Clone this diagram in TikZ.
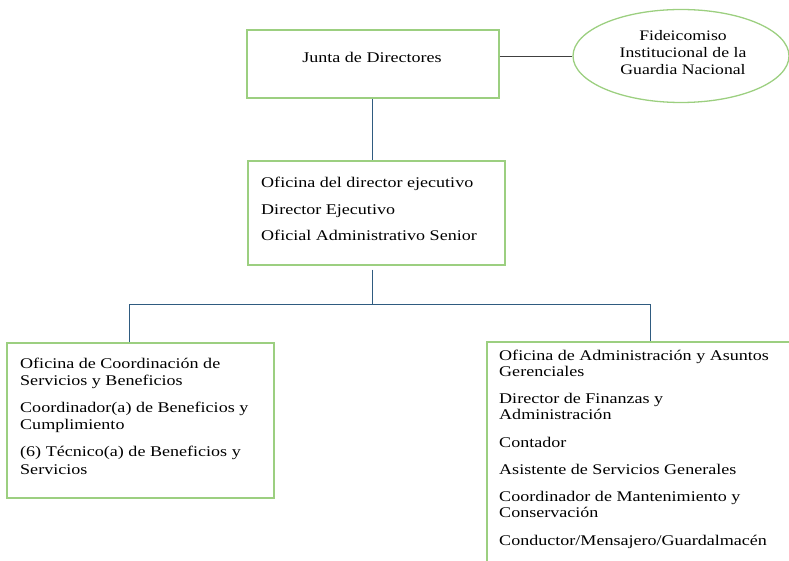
\documentclass[tikz,border=0pt]{standalone}
\usepackage{fontspec}
\setmainfont{Liberation Serif}[FakeStretch=1.22]
\usetikzlibrary{shapes.geometric}
\definecolor{boxgreen}{HTML}{9CCF80}
\definecolor{linkblue}{HTML}{2F5B80}
\begin{document}
\begin{tikzpicture}[x=1pt,y=-1pt,
  box/.style={draw=boxgreen, line width=1.6pt, anchor=north west, inner sep=0pt},
  txt/.style={anchor=north west, align=left, inner sep=0pt, font=\fontsize{14.8}{17.2}\selectfont},
  link/.style={draw=linkblue, line width=1pt}]
\useasboundingbox (0,0) rectangle (789,561);
\begin{scope}
\clip (0,0) rectangle (789,561);
% boxes
\node[box, minimum width=252pt, minimum height=68pt] (junta) at (246,29) {};
\node[txt, anchor=center] (juntatxt) at (372,57) {Junta de Directores};
\node[draw=boxgreen, line width=1.3pt, ellipse, minimum width=216pt, minimum height=93pt, inner sep=0pt,
      align=center, font=\fontsize{14.5}{17}\selectfont] (fid) at (681,56) {};
\node[align=center, inner sep=0pt, font=\fontsize{14.5}{17}\selectfont] (fidtxt) at (683,53)
      {Fideicomiso\\Institucional de la\\Guardia Nacional};
\node[box, minimum width=257pt, minimum height=104pt] (dir) at (247,160) {};
\node[txt] (dirtxt) at (261,177) {Oficina del director ejecutivo\\[9.3pt]Director Ejecutivo\\[9.3pt]Oficial Administrativo Senior};
\node[box, minimum width=267pt, minimum height=155pt] (left) at (6,342) {};
\node[txt] (lefttxt) at (20,357.5) {Oficina de Coordinación de\\Servicios y Beneficios\\[10pt]Coordinador(a) de Beneficios y\\Cumplimiento\\[10pt](6) Técnico(a) de Beneficios y\\Servicios};
\node[box, minimum width=320pt, minimum height=240pt] (right) at (486,341) {};
\node[txt, font=\fontsize{14.8}{15.8}\selectfont] (righttxt) at (499,350) {Oficina de Administración y Asuntos\\Gerenciales\\[11.6pt]Director de Finanzas y\\Administración\\[11.6pt]Contador\\[11.6pt]Asistente de Servicios Generales\\[11.6pt]Coordinador de Mantenimiento y\\Conservación\\[11.6pt]Conductor/Mensajero/Guardalmacén};
% connectors
\coordinate (busL) at (129,304);
\coordinate (busR) at (650,304);
\draw[draw=black!75, line width=0.8pt] (junta.east |- fid.west) -- (fid.west);
\draw[link] (junta.south) -- (junta.south |- dir.north);
\draw[link] (junta.south |- dir.south) ++(0,4) -- (junta.south |- busL);
\draw[link] (busL) -- (busR);
\draw[link] (busL) -- (busL |- left.north);
\draw[link] (busR) -- (busR |- right.north);
\end{scope}
\end{tikzpicture}
\end{document}
